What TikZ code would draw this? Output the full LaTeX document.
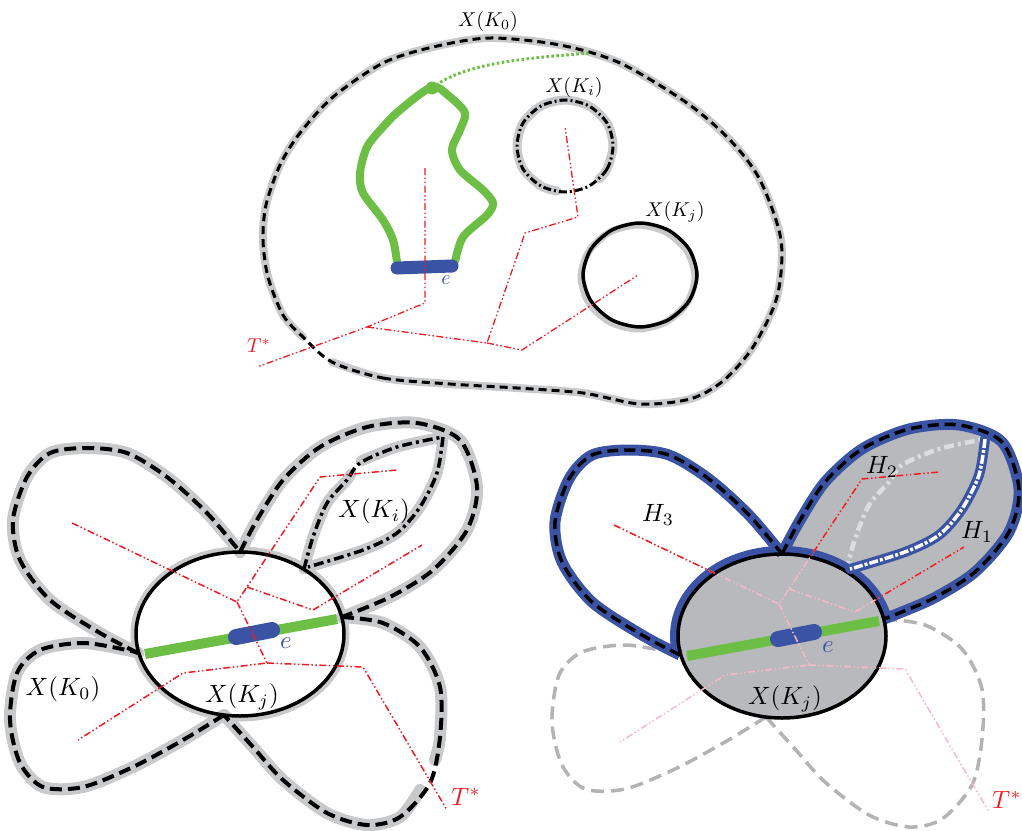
\documentclass[tikz,border=0pt]{standalone}
\usepackage{tikz}
\usepackage{xcolor}

\definecolor{kblue}{RGB}{58,83,164}
\definecolor{kgreen}{RGB}{108,190,69}
\definecolor{kred}{RGB}{237,28,36}
\definecolor{kpink}{RGB}{248,185,196}
\definecolor{halogray}{RGB}{200,201,203}
\definecolor{hfill}{RGB}{184,185,188}
\definecolor{faint}{RGB}{220,221,222}
\definecolor{ghost}{RGB}{178,179,181}

\tikzset{
  haloline/.style={draw=halogray,line width=8pt,line cap=round},
  kdash/.style={line width=3pt,dash pattern=on 8pt off 5pt},
  bdash/.style={line width=4pt,dash pattern=on 12pt off 6pt},
  bdashdot/.style={line width=3.5pt,dash pattern=on 10pt off 4pt on 3pt off 4pt},
  tree/.style={draw=kred,line width=1.5pt,dash pattern=on 7pt off 2.5pt on 1.5pt off 2.5pt on 1.5pt off 2.5pt},
  lbl/.style={scale=2.5,transform shape,inner sep=0pt},
  lbls/.style={scale=2,transform shape,inner sep=0pt}
}

% petals of the lower pictures
\def\pUL{plot[smooth] coordinates {(138,653) (100,633) (50,600) (20,560) (13,520) (27,477) (50,453) (87,448) (127,453) (167,477) (207,513) (240,552)}}
\def\pUR{plot[smooth] coordinates {(240,552) (257,520) (283,480) (320,447) (367,427) (417,423) (460,440) (477,487) (467,530) (433,570) (390,597) (342,617)}}
\def\pKiA{plot[smooth] coordinates {(304,569) (313,537) (327,503) (347,480) (360,463) (397,447) (443,437)}}
\def\pKiB{plot[smooth] coordinates {(443,437) (437,473) (420,507) (397,533) (363,550) (308,567)}}
\def\pLR{plot[smooth] coordinates {(342,617) (383,623) (420,647) (440,687) (440,737) (430,783) (400,817) (367,825) (327,813) (283,780) (253,747) (224,715)}}
\def\pLL{plot[smooth] coordinates {(224,715) (183,740) (133,767) (83,787) (43,787) (20,763) (10,720) (17,673) (40,650) (83,643) (127,650) (138,653)}}
\def\pKj{(240,634) circle[x radius=104,y radius=82]}

\newcommand\treepoints{%
  \coordinate (u1) at (72,523);
  \coordinate (u2) at (237,602);
  \coordinate (u3) at (320,477);
  \coordinate (u4) at (397,470);
  \coordinate (u5) at (247,587);
  \coordinate (u6) at (313,610);
  \coordinate (u7) at (422,545);
  \coordinate (u8) at (267,663);
  \coordinate (u9) at (183,673);
  \coordinate (u10) at (78,740);
  \coordinate (u11) at (363,667);
  \coordinate (u12) at (447,810);}
\def\treepath{(u1) -- (u2) -- (u3) -- (u4) (u5) -- (u6) -- (u7) (u2) -- (u8) -- (u9) -- (u10) (u8) -- (u11) -- (u12)}

\begin{document}
\begin{tikzpicture}[x=1pt,y=-1pt,line join=round]
\useasboundingbox (0,0) rectangle (1022,830);

% top: X(K_0)
\draw[haloline] plot[smooth] coordinates {(332,362) (383,378) (450,384) (517,388) (583,393) (640,404) (690,399) (723,381) (753,347) (777,297) (781,240) (760,180) (730,140) (687,103) (620,63) (560,45) (490,38) (433,47) (383,63) (333,97) (300,133) (280,165) (266,205) (263,240) (268,277) (283,315) (303,337)};
\draw[kdash] plot[smooth cycle] coordinates {(332,362) (383,378) (450,384) (517,388) (583,393) (640,404) (690,399) (723,381) (753,347) (777,297) (781,240) (760,180) (730,140) (687,103) (620,63) (560,45) (490,38) (433,47) (383,63) (333,97) (300,133) (280,165) (266,205) (263,240) (268,277) (283,315) (303,337)};

% X(K_i) and X(K_j)
\draw[haloline,line width=9pt] plot[smooth] coordinates {(599,179) (607,169) (613,146) (607,123) (589,106) (565,100) (541,106) (523,123) (517,146) (523,169) (541,186) (557,191)};
\draw[line width=3pt,dash pattern=on 8pt off 3pt on 2pt off 3pt] plot[smooth cycle] coordinates {(613,146) (607,169) (589,186) (565,192) (541,186) (523,169) (517,146) (523,123) (541,106) (565,100) (589,106) (607,123)};
\draw[draw=halogray,line width=7pt] plot[smooth cycle] coordinates {(695,277) (687,303) (666,322) (638,329) (610,322) (589,303) (581,277) (589,251) (610,232) (638,225) (666,232) (687,251)};
\draw[line width=3.5pt] plot[smooth cycle] coordinates {(697,275) (689,301) (668,320) (640,327) (612,320) (591,301) (583,275) (591,249) (612,230) (640,223) (668,230) (689,249)};

% green loop at e
\node[circle,fill=kgreen,inner sep=0pt,minimum size=13pt] (gv) at (432,88) {};
\draw[kgreen,line width=3pt,dash pattern=on 2.5pt off 2.5pt] (gv.center) .. controls (465,62) and (530,58) .. (590,53);
\draw[kgreen,line width=8pt] plot[smooth] coordinates {(397,262) (393,240) (383,220) (363,193) (360,173) (367,147) (383,127) (400,110) (432,87) (450,97) (465,113) (460,130) (452,150) (460,170) (483,190) (493,203) (487,215) (463,237) (455,262)};
\draw[kblue,line width=13pt,line cap=round] (397,268) -- (452,266);
\node[lbls,text=kblue] (e0) at (446,280) {$e$};

% T* in the top picture
\coordinate (r1) at (425,168);
\coordinate (r2) at (425,303);
\coordinate (r3) at (367,327);
\coordinate (r4) at (257,367);
\coordinate (r5) at (487,343);
\coordinate (r6) at (525,233);
\coordinate (r7) at (578,217);
\coordinate (r8) at (565,127);
\coordinate (r9) at (522,350);
\coordinate (r10) at (638,275);
\draw[tree,line width=1.3pt] (r1) -- (r2) -- (r3) -- (r4) (r3) -- (r5) -- (r6) -- (r7) -- (r8) (r5) -- (r9) -- (r10);

\node[lbls] (k0) at (488,21) {$X(K_0)$};
\node[lbls] (ki) at (574,87) {$X(K_i)$};
\node[lbls] (kj) at (675,212) {$X(K_j)$};
\node[lbls,text=kred] (t0) at (259,346) {$T^*$};

% lower left: all the pieces
\begin{scope}
  \treepoints
  \draw[haloline,line width=12pt] \pUL;
  \draw[haloline,line width=12pt] \pUR;
  \draw[haloline,line width=12pt] \pLL;
  \draw[haloline,line width=12pt] plot[smooth] coordinates {(342,617) (383,623) (420,647) (440,687) (440,737) (435,760)};
  \draw[haloline,line width=12pt] plot[smooth] coordinates {(420,790) (400,817) (367,825) (327,813) (283,780) (253,747) (224,715)};
  \draw[haloline,line width=11pt] plot[smooth] coordinates {(304,569) (313,537) (327,503) (347,480) (351,474)};
  \draw[haloline,line width=11pt] plot[smooth] coordinates {(361,461) (397,447) (443,437)};
  \draw[haloline,line width=11pt] \pKiB;
  \draw[draw=halogray,line width=5pt] (240,634) circle[x radius=107,y radius=85];
  \draw[bdash] \pUL;
  \draw[bdash] \pUR;
  \draw[bdash] \pLR;
  \draw[bdash] \pLL;
  \draw[bdashdot] \pKiA;
  \draw[bdashdot] \pKiB;
  \draw[line width=3.5pt] \pKj;
  \draw[kgreen,line width=10pt] (145,654) -- (337,619);
  \draw[kblue,line width=16pt,line cap=round] (236,637) -- (272,630);
  \draw[tree] \treepath;
  \node[lbl] (lk0) at (63,689) {$X(K_0)$};
  \node[lbl] (lki) at (374,511) {$X(K_i)$};
  \node[lbl] (lkj) at (242,697) {$X(K_j)$};
  \node[lbl,text=kblue] (le) at (286,643) {$e$};
  \node[lbl,text=kred] (lt) at (466,797) {$T^*$};
\end{scope}

% lower right: H_1, H_2, H_3
\begin{scope}[shift={(542,2)}]
  \treepoints
  \fill[hfill] \pUR -- cycle;
  \fill[hfill] \pKj;
  \draw[ghost,line width=3.5pt,dash pattern=on 13pt off 7pt] \pLR;
  \draw[ghost,line width=3.5pt,dash pattern=on 13pt off 7pt] \pLL;
  \draw[faint,line width=4.5pt,dash pattern=on 10pt off 4pt on 3pt off 4pt] \pKiA;
  \draw[kblue,line width=11pt] \pUL;
  \draw[kblue,line width=11pt] \pUR;
  \draw[kblue,line width=8pt] (134.8,653.3) arc[start angle=167,end angle=348,x radius=108,y radius=86];
  \draw[bdash,line width=3.5pt,dash pattern=on 11pt off 6pt] \pUL;
  \draw[bdash,line width=3.5pt,dash pattern=on 11pt off 6pt] \pUR;
  \draw[line width=3.5pt] \pKj;
  \draw[kblue,line width=10pt,line cap=round] \pKiB;
  \draw[white,line width=3.5pt,dash pattern=on 9pt off 2pt on 3pt off 2pt] \pKiB;
  \draw[kgreen,line width=10pt] (145,654) -- (337,619);
  \draw[kblue,line width=16pt,line cap=round] (236,637) -- (272,630);
  \draw[tree,draw=kpink] \treepath;
  \begin{scope}
    \clip \pUL -- cycle \pUR -- cycle;
    \begin{scope}[even odd rule]
      \clip (-600,-100) rectangle (700,1000) \pKj;
      \draw[tree] \treepath;
    \end{scope}
  \end{scope}
  \node[lbl] (h3) at (116,513) {$H_3$};
  \node[lbl] (h2) at (340,465) {$H_2$};
  \node[lbl] (h1) at (435,530) {$H_1$};
  \node[lbl] (rkj) at (243,697) {$X(K_j)$};
  \node[lbl,text=kblue] (re) at (286,645) {$e$};
  \node[lbl,text=kred] (rt) at (465,798) {$T^*$};
\end{scope}
\end{tikzpicture}
\end{document}
